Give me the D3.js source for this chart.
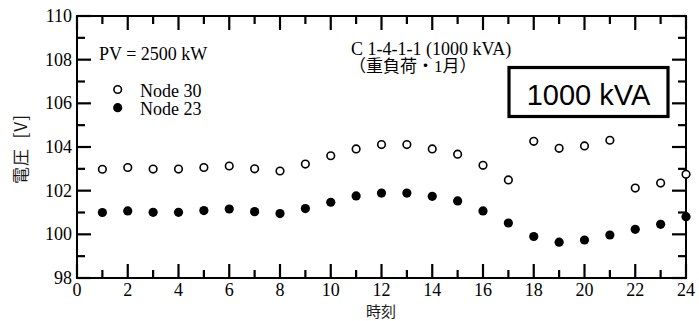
<!DOCTYPE html>
<html><head><meta charset="utf-8">
<script src="https://cdn.jsdelivr.net/npm/d3@7"></script>
<style>body{margin:0;background:#fff}svg{display:block}</style>
</head><body>
<script>
const hours = d3.range(1, 25);
const node30 = [102.98,103.06,102.99,102.99,103.06,103.13,103.0,102.9,103.22,103.6,103.91,104.11,104.11,103.91,103.67,103.16,102.49,104.26,103.94,104.05,104.31,102.12,102.35,102.75];
const node23 = [101.0,101.07,101.01,101.01,101.09,101.16,101.04,100.95,101.18,101.47,101.76,101.89,101.89,101.74,101.53,101.07,100.52,99.9,99.64,99.74,99.97,100.23,100.46,100.81];
const xTicks = [0,2,4,6,8,10,12,14,16,18,20,22,24];
const yTicks = [98,100,102,104,106,108,110];
const seriesNames = ["Node 30", "Node 23"];

const W = 699, H = 321;
const m = {l:77, r:686, t:16, b:278};
const svg = d3.select("body").append("svg").attr("width", W).attr("height", H);
const x = d3.scaleLinear().domain([0,24]).range([m.l, m.r]);
const y = d3.scaleLinear().domain([98,110]).range([m.b, m.t]);
const serif = "'Liberation Serif','Times New Roman',serif";
const cjk = "'Noto Sans CJK JP',sans-serif";
const minorX = d3.range(1,24,2), minorY = d3.range(99,110,2);

// frame
svg.append("rect").attr("x",m.l).attr("y",m.t).attr("width",m.r-m.l).attr("height",m.b-m.t)
  .attr("fill","none").attr("stroke","#000").attr("stroke-width",2);

// ticks
const tickSpecs = [];
xTicks.forEach(v=>{ tickSpecs.push({x1:x(v),y1:m.b,x2:x(v),y2:m.b-14}); tickSpecs.push({x1:x(v),y1:m.t,x2:x(v),y2:m.t+14}); });
minorX.forEach(v=>{ tickSpecs.push({x1:x(v),y1:m.b,x2:x(v),y2:m.b-8}); tickSpecs.push({x1:x(v),y1:m.t,x2:x(v),y2:m.t+8}); });
yTicks.forEach(v=>{ tickSpecs.push({x1:m.l,y1:y(v),x2:m.l+14,y2:y(v)}); tickSpecs.push({x1:m.r,y1:y(v),x2:m.r-14,y2:y(v)}); });
minorY.forEach(v=>{ tickSpecs.push({x1:m.l,y1:y(v),x2:m.l+8,y2:y(v)}); tickSpecs.push({x1:m.r,y1:y(v),x2:m.r-8,y2:y(v)}); });
svg.append("g").attr("class","ticks").selectAll("path").data(tickSpecs).join("path")
  .attr("d",d=>`M${d.x1},${d.y1}L${d.x2},${d.y2}`)
  .style("stroke","#000").style("stroke-width","2.2px").style("fill","none");

svg.append("g").selectAll("text").data(xTicks).join("text")
  .attr("x",d=>x(d)).attr("y",296).attr("text-anchor","middle")
  .attr("font-family",serif).attr("font-size",18).text(d=>d);
svg.append("g").selectAll("text").data(yTicks).join("text")
  .attr("x",72).attr("y",d=>y(d)).attr("dy","0.33em").attr("text-anchor","end")
  .attr("font-family",serif).attr("font-size",18).text(d=>d);

// data
svg.append("g").selectAll("circle").data(hours).join("circle")
  .attr("cx",(d)=>x(d)).attr("cy",(d,i)=>y(node30[i])).attr("r",3.8)
  .attr("fill","#fff").attr("stroke","#000").attr("stroke-width",1.6);
svg.append("g").selectAll("circle").data(hours).join("circle")
  .attr("cx",(d)=>x(d)).attr("cy",(d,i)=>y(node23[i])).attr("r",4.6)
  .attr("fill","#000");

// legend
svg.append("text").attr("x",99).attr("y",60).attr("font-family",serif).attr("font-size",18).text("PV = 2500 kW");
svg.append("circle").attr("cx",117.7).attr("cy",89.5).attr("r",3.8).attr("fill","#fff").attr("stroke","#000").attr("stroke-width",1.6);
svg.append("circle").attr("cx",117.7).attr("cy",107.7).attr("r",4.6).attr("fill","#000");
svg.append("text").attr("x",140).attr("y",96.5).attr("font-family",serif).attr("font-size",18).text(seriesNames[0]);
svg.append("text").attr("x",140).attr("y",115).attr("font-family",serif).attr("font-size",18).text(seriesNames[1]);

// title
svg.append("text").attr("x",351).attr("y",54.5).attr("font-family",serif).attr("font-size",18).text("C 1-4-1-1 (1000 kVA)");
svg.append("text").attr("x",349).attr("y",72).attr("font-family",serif+","+cjk).attr("font-size",17).text("（重負荷・1月）");

// box
svg.append("rect").attr("x",509).attr("y",67.5).attr("width",159).attr("height",49)
  .attr("fill","#fff").attr("stroke","#000").attr("stroke-width",3.2);
svg.append("text").attr("x",588.5).attr("y",105).attr("text-anchor","middle")
  .attr("font-family","'Liberation Sans',Arial,sans-serif").attr("font-size",29).text("1000 kVA");

// axis titles
svg.append("text").attr("transform","translate(27,149) rotate(-90)").attr("text-anchor","middle")
  .attr("font-family",cjk).attr("font-size",17).attr("letter-spacing",1).attr("fill","#1a1a1a").text("電圧\u2002[V]");
svg.append("text").attr("x",381).attr("y",317).attr("text-anchor","middle")
  .attr("font-family",cjk).attr("font-size",15).attr("fill","#1a1a1a").text("時刻");
</script>
</body></html>
